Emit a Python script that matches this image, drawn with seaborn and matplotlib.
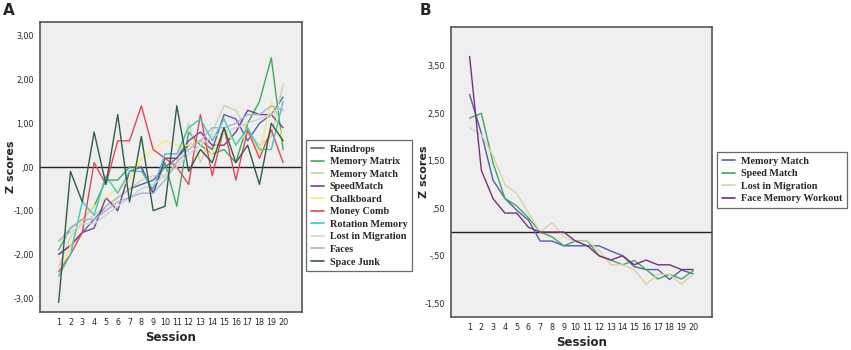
import numpy as np
import pandas as pd
import matplotlib
matplotlib.use("Agg")
import matplotlib.pyplot as plt
import seaborn as sns
from matplotlib.lines import Line2D

sessions = list(range(1, 21))

# Panel A series
raindrops = [-2.0, -1.8, -1.5, -1.2, -0.9, -0.7, -0.5, -0.4, -0.3, 0.0, 0.2, 0.5, 0.6, 0.4, 1.2, 1.1, 0.6, 1.0, 1.2, 1.6]
memory_matrix = [-1.9, -1.4, -1.2, -0.9, -0.3, -0.3, 0.0, 0.0, -0.6, 0.1, -0.9, 0.8, 0.5, 0.3, 0.4, 0.1, 1.0, 1.5, 2.5, 0.4]
memory_match_a = [-2.3, -1.6, -1.3, -1.1, -0.9, -0.7, -0.5, -0.3, -0.2, -0.2, 0.1, 1.0, 0.1, 0.8, 1.4, 1.3, 0.8, 0.5, 0.7, 1.9]
speedmatch = [-2.0, -1.8, -1.5, -1.4, -0.7, -1.0, -0.1, 0.0, -0.6, 0.2, 0.2, 0.6, 0.8, 0.5, 0.5, 0.8, 1.3, 1.2, 1.2, 0.9]
chalkboard = [-2.5, -1.8, -1.2, -0.9, -0.7, -0.5, -0.3, 0.2, 0.4, 0.6, 0.5, 0.5, 0.6, 0.3, 0.9, 0.5, 0.8, 0.3, 1.5, 0.6]
money_comb = [-2.4, -2.0, -1.5, 0.1, -0.4, 0.6, 0.6, 1.4, 0.4, 0.2, 0.0, -0.4, 1.2, -0.2, 0.9, -0.3, 0.85, 0.2, 0.85, 0.1]
rotation_memory = [-2.5, -2.0, -0.8, -1.1, -0.2, -0.6, -0.1, -0.1, -0.5, 0.3, 0.3, 0.9, 1.1, 0.6, 1.1, 0.5, 0.9, 0.4, 0.4, 1.5]
lost_in_migration_a = [-1.7, -1.5, -1.3, -1.3, -1.1, -0.9, -0.7, -0.5, -0.4, -0.2, 0.0, 0.3, 0.5, 0.7, 0.8, 0.9, 1.0, 1.1, 1.2, 1.4]
faces = [-1.7, -1.4, -1.2, -1.2, -1.0, -0.8, -0.7, -0.6, -0.6, -0.3, 0.1, 0.4, 0.6, 0.9, 0.9, 1.0, 1.2, 1.2, 1.4, 1.3]
space_junk = [-3.1, -0.1, -0.8, 0.8, -0.4, 1.2, -0.8, 0.7, -1.0, -0.9, 1.4, -0.1, 0.4, 0.1, 0.9, 0.1, 0.5, -0.4, 1.0, 0.6]

names_a = ["Raindrops", "Memory Matrix", "Memory Match", "SpeedMatch", "Chalkboard",
           "Money Comb", "Rotation Memory", "Lost in Migration", "Faces", "Space Junk"]
values_a = [raindrops, memory_matrix, memory_match_a, speedmatch, chalkboard,
            money_comb, rotation_memory, lost_in_migration_a, faces, space_junk]
colors_a = ["#5b5fae", "#3dab5c", "#d4d0a6", "#7b3b97", "#f2ee6c",
            "#e2455a", "#3fc6c0", "#cdd2da", "#9cb6d0", "#2f5e46"]

# Panel B series
memory_match_b = [2.9, 2.08, 1.09, 0.71, 0.46, 0.25, -0.19, -0.19, -0.29, -0.29, -0.29, -0.29, -0.4, -0.5, -0.73, -0.79, -0.79, -1.0, -0.8, -0.88]
speed_match_b = [2.4, 2.5, 1.45, 0.71, 0.55, 0.3, 0.0, -0.1, -0.29, -0.19, -0.19, -0.5, -0.59, -0.69, -0.6, -0.79, -0.99, -0.89, -0.99, -0.82]
lost_in_migration_b = [2.2, 2.05, 1.6, 1.0, 0.82, 0.4, 0.0, 0.2, -0.1, -0.2, -0.19, -0.38, -0.69, -0.69, -0.79, -1.1, -0.89, -0.89, -1.1, -0.89]
face_memory_workout = [3.7, 1.3, 0.7, 0.4, 0.4, 0.1, 0.0, 0.0, 0.0, -0.19, -0.29, -0.5, -0.59, -0.5, -0.69, -0.59, -0.69, -0.69, -0.79, -0.79]

names_b = ["Memory Match", "Speed Match", "Lost in Migration", "Face Memory Workout"]
values_b = [memory_match_b, speed_match_b, lost_in_migration_b, face_memory_workout]
colors_b = ["#4f5fb0", "#3ea85a", "#d9d2ab", "#7a2e7e"]

yticks_a = [3.0, 2.0, 1.0, 0.0, -1.0, -2.0, -3.0]
yticklabels_a = ["3,00", "2,00", "1,00", ",00", "-1,00", "-2,00", "-3,00"]
yticks_b = [3.5, 2.5, 1.5, 0.5, -0.5, -1.5]
yticklabels_b = ["3,50", "2,50", "1,50", ",50", "-,50", "-1,50"]

df_a = pd.DataFrame([(s, v, n) for n, vals in zip(names_a, values_a) for s, v in zip(sessions, vals)],
                    columns=["Session", "Z", "Game"])
df_b = pd.DataFrame([(s, v, n) for n, vals in zip(names_b, values_b) for s, v in zip(sessions, vals)],
                    columns=["Session", "Z", "Game"])

sns.set_style("white")
plt.rcParams["font.family"] = ["DejaVu Sans"]

fig = plt.figure(figsize=(8.51, 3.5), dpi=100)
ax_a = fig.add_axes([40/851, 1-312/350, 262/851, 290/350])
ax_b = fig.add_axes([451/851, 1-317/350, 261/851, 290/350])

def style(ax, df, names, colors, yticks, ylabels, ylim, ylab_x):
    ax.set_facecolor("#efefef")
    sns.lineplot(data=df, x="Session", y="Z", hue="Game", hue_order=names,
                 palette=dict(zip(names, colors)), ax=ax, linewidth=1.0,
                 legend=False, estimator=None, sort=False)
    ax.axhline(0, color="#222222", lw=1.0, zorder=1)
    ax.set_xlim(-0.58, 21.6)
    ax.set_ylim(*ylim)
    ax.set_xticks(sessions)
    ax.set_xticklabels([str(s) for s in sessions], fontsize=5.8)
    ax.set_yticks(yticks)
    ax.set_yticklabels(ylabels, fontsize=5.8)
    ax.tick_params(axis="both", direction="out", length=3, width=0.8, color="#333333", pad=1.5)
    for sp in ax.spines.values():
        sp.set_color("#555555")
        sp.set_linewidth(1.2)
    ax.set_xlabel("Session", fontsize=8.5, fontweight="bold", labelpad=3)
    ax.set_ylabel("Z scores", fontsize=8, fontweight="bold")
    ax.yaxis.set_label_coords(ylab_x, 0.5)

style(ax_a, df_a, names_a, colors_a, yticks_a, yticklabels_a, (-3.32, 3.32), -0.09)
style(ax_b, df_b, names_b, colors_b, yticks_b, yticklabels_b, (-1.79, 4.32), -0.085)

def make_legend(names, colors, anchor):
    handles = [Line2D([0], [0], color=c, lw=1.2) for c in colors]
    leg = fig.legend(handles, names, loc="upper left", bbox_to_anchor=anchor,
                     bbox_transform=fig.transFigure, frameon=True, fancybox=False,
                     prop={"family": "Liberation Serif", "weight": "bold", "size": 7.3},
                     handlelength=1.3, handletextpad=0.6, labelspacing=0.34,
                     borderpad=0.45, borderaxespad=0)
    leg.get_frame().set_edgecolor("#444444")
    leg.get_frame().set_linewidth(0.9)
    return leg

make_legend(names_a, colors_a, (306/851, 1-140/350))
make_legend(names_b, colors_b, (717/851, 1-152/350))

fig.text(3/851, 1-3/350, "A", fontsize=11, fontweight="bold", va="top", ha="left")
fig.text(420/851, 1-3/350, "B", fontsize=11, fontweight="bold", va="top", ha="left")

fig.savefig("out.png", dpi=100)
